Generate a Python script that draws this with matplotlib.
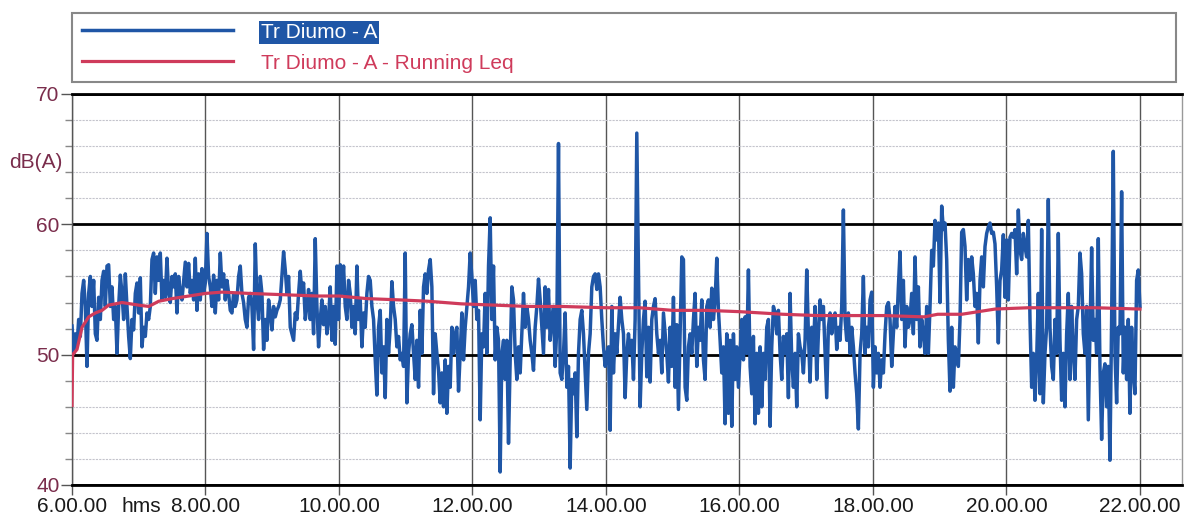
import numpy as np
import matplotlib.pyplot as plt
from matplotlib import font_manager
from matplotlib.ticker import MultipleLocator

# condensed face if there is one, otherwise plain Liberation Sans a bit smaller
installed = {f.name for f in font_manager.fontManager.ttflist}
if 'Liberation Sans Narrow' in installed:
    plt.rcParams['font.family'] = ['Liberation Sans Narrow', 'DejaVu Sans']
    fs = 16
else:
    plt.rcParams['font.family'] = ['Liberation Sans', 'DejaVu Sans']
    fs = 15

# sound level, dB(A), one value every ~1.5 min, split in blocks of 2h40
level_0600 = [
    52.2, 50.1, 51.6, 50.6, 52.7, 51.4, 54.7, 55.7, 53.7, 49.1,
    54.7, 56.0, 53.7, 55.7, 51.6, 51.1, 54.4, 52.7, 55.7, 56.4,
    53.7, 56.8, 56.9, 53.7, 55.2, 52.7, 53.7, 50.1, 53.7, 56.1,
    54.7, 52.7, 56.2, 53.7, 51.4, 49.7, 52.7, 51.9, 54.7, 55.5,
    53.2, 55.9, 50.6, 52.1, 51.4, 53.2, 52.7, 53.7, 57.3, 57.8,
    54.7, 57.5, 55.7, 57.8, 54.2, 55.7, 54.4, 57.4, 54.7, 54.0,
    56.0, 55.2, 56.2, 53.2, 56.0, 54.7, 54.2, 55.7, 57.1, 55.2,
    57.0, 54.7, 55.7, 54.2, 57.4, 53.4, 56.2, 54.2, 56.6, 54.7,
    55.5, 59.3, 56.0, 55.2, 53.7, 56.1, 53.2, 55.7, 54.2, 57.8,
    55.2, 56.2, 54.2, 55.7, 54.7, 53.4, 53.2, 54.7, 53.7, 54.2,
    56.0, 56.8, 54.7, 54.0, 52.7, 52.1, 54.4,
]
level_0840 = [
    54.7, 53.7, 50.4, 58.5, 54.2, 52.7, 56.0, 54.7, 50.4, 52.7,
    51.1, 54.2, 53.2, 51.9, 53.7, 52.9, 53.4, 53.7, 54.2, 56.0,
    57.9, 56.5, 54.7, 56.0, 52.1, 51.6, 51.1, 53.2, 52.7, 54.7,
    56.4, 54.7, 55.5, 52.7, 53.7, 55.0, 52.7, 54.7, 51.6, 58.9,
    53.7, 50.6, 52.7, 54.2, 52.3, 53.7, 51.6, 52.7, 55.2, 51.1,
    53.7, 50.8, 56.8, 52.7, 56.9, 54.7, 56.8, 53.7, 52.7, 55.7,
    54.7, 52.1, 53.7, 51.6, 56.8, 52.7, 54.2, 50.6, 53.2, 52.1,
    54.7, 56.0, 55.7, 53.7, 52.7, 49.6, 46.9, 52.1, 53.4, 48.6,
    50.6, 46.7, 52.7, 50.1, 52.1, 55.6, 53.7, 52.7, 50.6, 51.4,
    49.6, 50.1, 49.1, 57.8, 46.3, 50.1, 51.6, 52.3, 50.1, 48.1,
    51.1, 47.5, 53.4, 50.1, 55.2, 56.2, 54.7,
]
level_1120 = [
    56.5, 57.3, 55.2, 47.0, 51.6, 50.1, 48.8, 46.3, 48.6, 46.0,
    49.6, 45.5, 49.1, 47.5, 52.1, 50.1, 51.6, 52.1, 47.2, 50.1,
    53.2, 49.6, 52.1, 53.7, 55.2, 57.8, 56.0, 53.7, 55.7, 52.7,
    53.4, 45.0, 51.6, 50.6, 54.7, 50.1, 56.8, 60.5, 52.7, 56.8,
    49.6, 52.1, 51.1, 41.0, 50.1, 51.1, 48.1, 51.1, 43.2, 49.6,
    55.2, 54.2, 50.1, 48.1, 50.6, 48.6, 51.6, 54.7, 52.1, 53.7,
    52.7, 51.1, 50.1, 48.8, 52.1, 53.7, 55.8, 54.2, 52.1, 50.1,
    55.2, 52.1, 55.0, 51.1, 52.7, 53.7, 49.1, 52.1, 66.2, 48.6,
    48.1, 50.1, 53.2, 47.5, 49.1, 41.3, 48.1, 47.0, 48.6, 43.7,
    50.1, 52.7, 53.4, 51.6, 48.6, 45.8, 50.1, 51.6, 55.2, 56.0,
    56.2, 55.0, 56.2, 55.2, 52.7, 50.6, 49.1,
]
level_1400 = [
    50.1, 50.6, 44.2, 53.7, 48.6, 51.6, 50.1, 52.3, 54.4, 52.7,
    51.6, 46.7, 50.1, 51.6, 50.1, 51.1, 48.1, 52.7, 67.0, 56.2,
    46.0, 50.1, 52.7, 54.1, 48.3, 52.1, 47.9, 52.7, 53.7, 54.3,
    51.6, 50.1, 51.1, 48.6, 53.2, 51.6, 50.1, 47.9, 52.1, 49.1,
    54.4, 47.5, 52.3, 45.8, 51.6, 57.5, 57.3, 47.5, 46.5, 50.6,
    51.6, 50.1, 52.7, 54.7, 49.1, 52.1, 51.1, 54.2, 49.6, 48.1,
    53.7, 54.2, 52.1, 55.1, 52.7, 54.2, 57.4, 53.4, 51.1, 48.6,
    50.6, 44.7, 51.6, 45.5, 51.1, 44.5, 51.6, 48.1, 50.6, 47.5,
    50.1, 52.7, 49.6, 52.9, 50.1, 56.5, 49.1, 47.0, 51.4, 44.7,
    50.1, 45.5, 50.6, 46.0, 50.1, 48.1, 52.1, 52.7, 44.5, 50.6,
    53.7, 53.2, 51.6, 53.4, 50.1, 48.1, 51.4,
]
level_1640 = [
    50.1, 51.6, 46.7, 54.7, 49.6, 47.5, 50.1, 46.0, 51.6, 50.6,
    50.1, 48.6, 51.1, 56.5, 51.6, 47.9, 52.1, 50.1, 53.7, 48.1,
    51.6, 54.2, 52.7, 53.7, 50.1, 46.7, 52.1, 53.2, 51.6, 52.7,
    53.2, 50.4, 52.1, 51.1, 53.7, 61.1, 52.7, 51.1, 53.2, 50.1,
    52.1, 50.6, 48.6, 47.0, 44.3, 50.1, 51.6, 56.0, 50.1, 52.1,
    50.6, 54.2, 54.8, 47.5, 50.6, 48.6, 50.1, 47.5, 49.6, 48.6,
    51.6, 53.7, 54.0, 52.7, 49.1, 51.6, 53.7, 52.1, 55.2, 57.9,
    52.7, 55.7, 50.6, 53.7, 52.1, 52.7, 54.7, 51.6, 57.5, 52.7,
    55.2, 50.6, 52.7, 51.6, 50.1, 53.7, 50.1, 53.7, 58.0, 56.8,
    60.3, 58.8, 60.1, 54.0, 61.4, 59.6, 60.1, 57.3, 51.1, 47.2,
    52.1, 47.5, 50.6, 50.1, 49.1, 52.7, 59.4,
]
level_1920 = [
    59.6, 58.3, 54.2, 57.3, 55.7, 57.5, 56.2, 53.7, 54.7, 50.9,
    55.7, 57.5, 55.2, 58.3, 59.3, 59.8, 60.1, 59.3, 59.4, 58.5,
    55.2, 50.9, 55.7, 56.5, 59.2, 54.4, 58.8, 54.2, 59.0, 59.3,
    59.0, 59.6, 56.2, 61.1, 58.0, 57.3, 59.3, 58.3, 57.5, 60.3,
    52.7, 47.5, 50.1, 46.5, 49.6, 54.7, 47.0, 59.6, 46.3, 50.1,
    52.1, 61.9, 52.1, 49.1, 48.1, 52.7, 50.1, 59.3, 51.1, 46.5,
    50.1, 46.0, 51.6, 54.7, 48.1, 53.7, 50.1, 48.1, 52.7, 53.7,
    57.8, 56.2, 51.6, 50.1, 53.7, 45.0, 51.6, 58.2, 51.1, 52.7,
    50.1, 58.9, 49.1, 43.5, 48.6, 49.3, 46.0, 49.1, 41.9, 52.7,
    65.6, 50.1, 46.3, 52.1, 51.6, 62.5, 48.6, 52.1, 48.1, 52.7,
    45.5, 52.1, 48.6, 47.0, 55.7, 56.5, 53.7,
]

# running Leq
leq_hours = [6.0, 6.01, 6.075, 6.15, 6.25, 6.35, 6.45, 6.55, 6.75, 7.0,
             7.15, 7.3, 7.5, 7.75, 8.0, 8.25, 8.65, 9.17, 9.67, 10.0,
             10.42, 10.92, 11.33, 11.83, 12.33, 12.83, 13.33, 14.0, 14.5, 15.0,
             15.5, 16.0, 16.65, 17.17, 17.67, 18.17, 18.77, 18.97, 19.33, 19.58,
             19.83, 20.33, 20.83, 21.33, 22.0]
leq_values = [46.1, 50.0, 50.4, 52.1, 52.9, 53.2, 53.4, 53.8, 54.0, 53.8,
              53.7, 54.1, 54.3, 54.5, 54.7, 54.8, 54.7, 54.6, 54.5, 54.5,
              54.3, 54.2, 54.1, 53.9, 53.8, 53.7, 53.7, 53.6, 53.6, 53.4,
              53.4, 53.3, 53.1, 53.0, 53.0, 53.0, 52.9, 53.1, 53.1, 53.3,
              53.5, 53.6, 53.6, 53.6, 53.5]

hour_ticks = [6, 8, 10, 12, 14, 16, 18, 20, 22]
hour_labels = ['6.00.00', '8.00.00', '10.00.00', '12.00.00', '14.00.00',
               '16.00.00', '18.00.00', '20.00.00', '22.00.00']

level = np.concatenate([level_0600, level_0840, level_1120,
                        level_1400, level_1640, level_1920])
hours = np.linspace(6, 22, len(level))

blue = '#1f56a6'
red = '#cf3b5b'
maroon = '#7a2d4c'
em = fs * 100 / 72  # font size in pixels

fig = plt.figure(figsize=(11.84, 5.22), dpi=100)
ax = fig.add_axes([72 / 1184, 37 / 522, 1110 / 1184, 391 / 522])

ax.plot(hours, level, color=blue, lw=2.5, label='Tr Diumo - A', zorder=3)
ax.plot(leq_hours, leq_values, color=red, lw=2.3,
        label='Tr Diumo - A - Running Leq', zorder=4)

ax.set_xlim(6, 22.63)
ax.set_ylim(40, 70)
ax.set_xticks(hour_ticks)
ax.set_xticklabels(hour_labels)
ax.set_yticks([40, 50, 60, 70])
ax.yaxis.set_minor_locator(MultipleLocator(2))

ax.set_axisbelow(True)
ax.yaxis.grid(True, which='major', color='black', lw=2)
ax.yaxis.grid(True, which='minor', color='#c4c4cc', lw=0.8, ls=(0, (2, 1)))
ax.xaxis.grid(True, which='major', color='#555555', lw=1)

ax.tick_params(axis='x', length=7, width=1, color='#555555', pad=2,
               labelsize=fs, labelcolor='#1a1a1a')
ax.tick_params(axis='y', which='major', length=8, width=1, color='#555555',
               pad=1, labelsize=fs, labelcolor=maroon)
ax.tick_params(axis='y', which='minor', length=5, width=1, color='#888888')

for side in ['top', 'bottom']:
    ax.spines[side].set_color('black')
    ax.spines[side].set_linewidth(2)
ax.spines['left'].set_color('#555555')
ax.spines['left'].set_linewidth(1)
ax.spines['right'].set_color('#999999')
ax.spines['right'].set_linewidth(1)

# unit next to the first time label, and the y unit
fig.canvas.draw()
lab_top = ax.get_xticklabels()[0].get_window_extent().y1
fig.text(141 / 1184, lab_top / 522, 'hms', ha='center', va='top',
         fontsize=fs, color='#1a1a1a')
fig.text(36 / 1184, 1 - 162 / 522, 'dB(A)', ha='center', va='center',
         fontsize=fs, color=maroon)

spacing = (33 - em) / em
pad = (68 - 2 * em - spacing * em) / (2 * em) + 0.12
leg = ax.legend(loc='upper left', bbox_to_anchor=(0, 1 + 81 / 391, 1104 / 1110, 0),
                mode='expand', borderaxespad=0, fancybox=False,
                edgecolor='#888888', framealpha=1, fontsize=fs,
                handlelength=151 / em, handletextpad=28 / em,
                labelspacing=spacing, borderpad=pad)
leg.get_frame().set_linewidth(1.5)
t1, t2 = leg.get_texts()
t1.set_color('white')
t1.set_bbox(dict(facecolor=blue, edgecolor='none', pad=1.5))
t2.set_color(red)

fig.savefig('out.png', dpi=100, facecolor='white')
